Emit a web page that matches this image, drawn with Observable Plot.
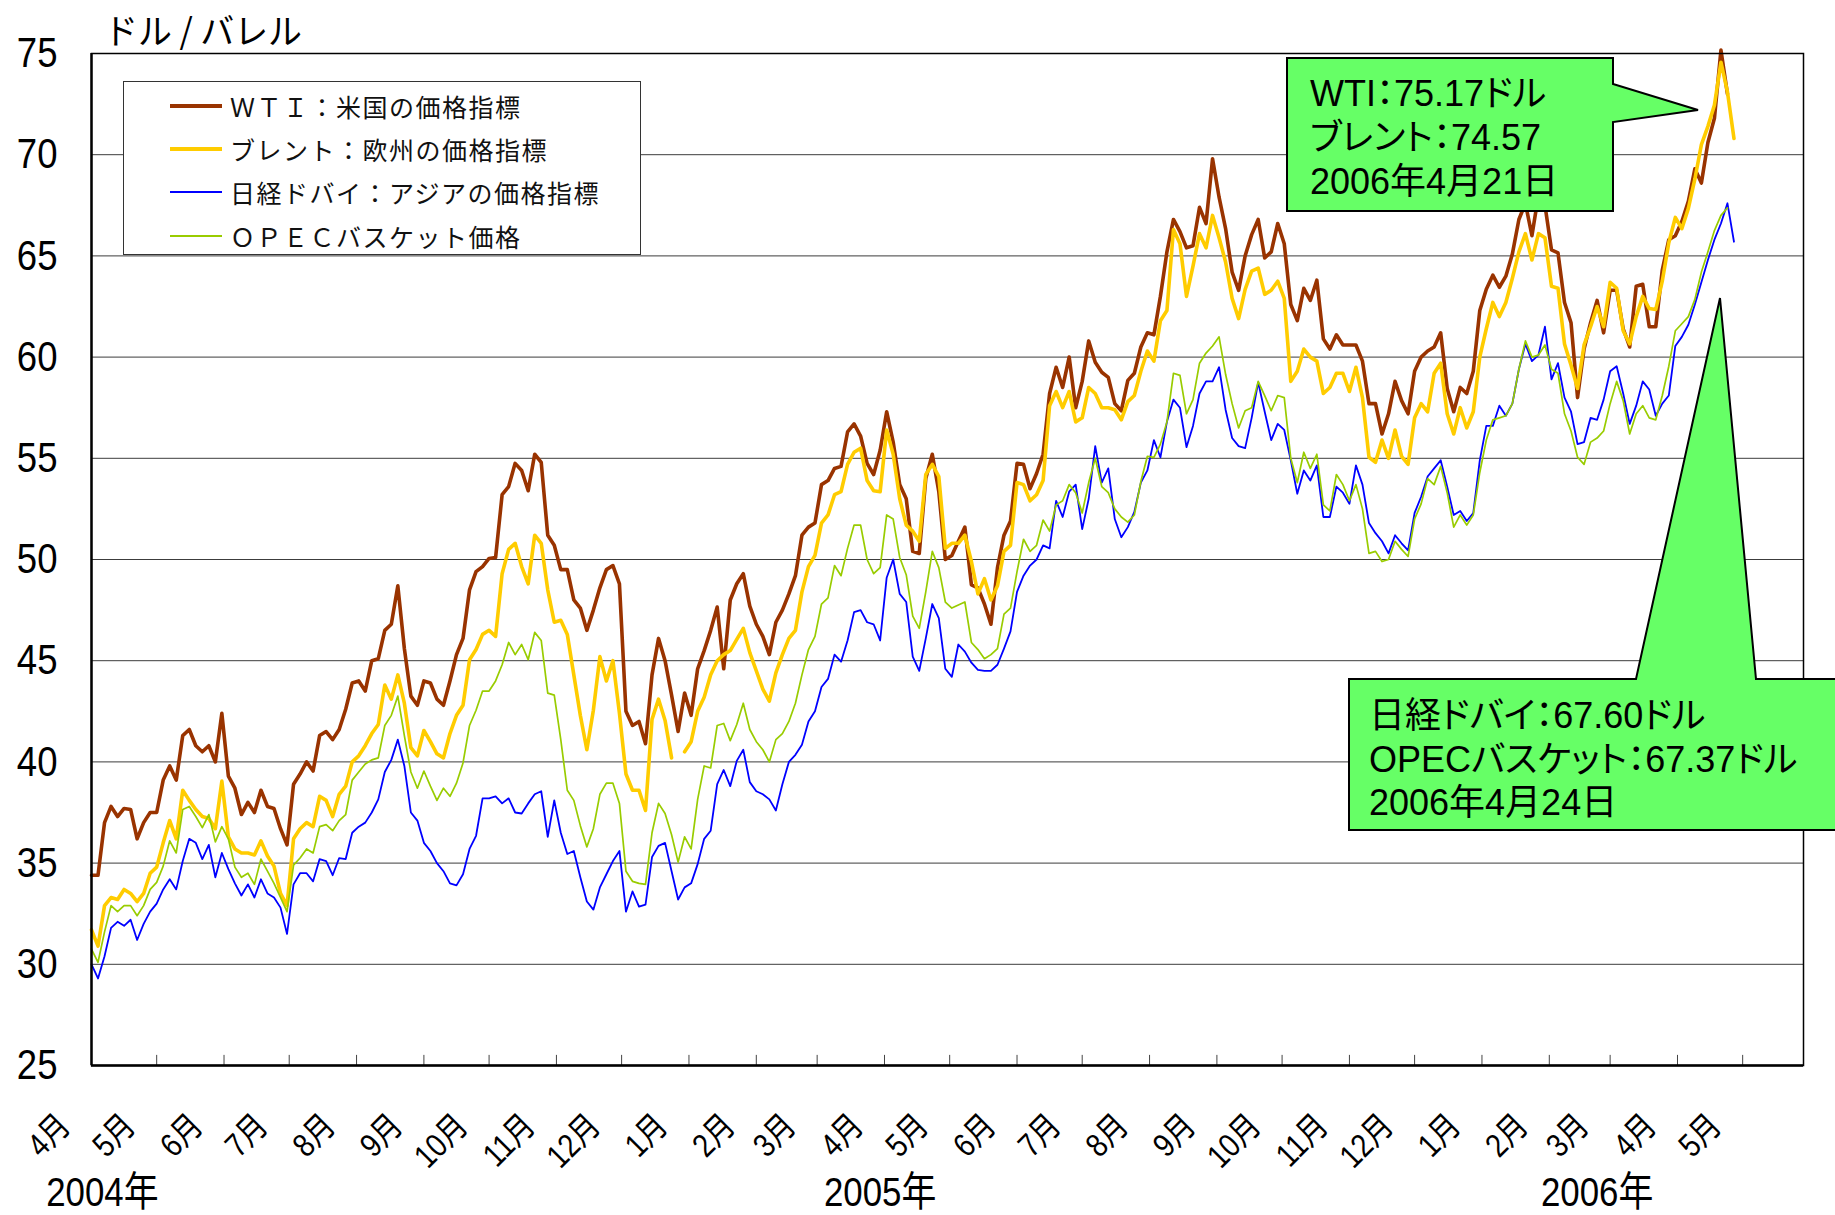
<!DOCTYPE html>
<html>
<head>
<meta charset="utf-8">
<script src="https://cdn.jsdelivr.net/npm/d3@7"></script>
<script src="https://cdn.jsdelivr.net/npm/@observablehq/plot@0.6"></script>
<style>
html, body { margin: 0; padding: 0; background: #fff; overflow: hidden; }
#wrap { position: relative; width: 1835px; height: 1215px; overflow: hidden; }
#wrap > svg { position: absolute; left: 0; top: 0; }
.legend { position: absolute; left: 123px; top: 81px; width: 518px; height: 174px; border: 1.5px solid #333;
  background: #fff; box-sizing: border-box; padding-top: 2px; }
.legend .row { height: 43.3px; display: flex; align-items: center; }
.legend .sw { margin-left: 46px; width: 52px; }
.legend .lab { margin-left: 8px; font-family: "Noto Sans CJK JP", sans-serif; font-size: 25px; letter-spacing: 1.5px; color: #111; white-space: nowrap; }
</style>
</head>
<body>
<div id="wrap"></div>
<script>
// ---------------- data (one value every 3 days from 2004-04-01) ----------------
const startDate = "2004-04-01";
const stepDays = 3;
const endDate = "2006-05-29";

const wti = [
 34.4,34.4,37.0,37.8,37.3,37.7,37.65,36.2,37.0,37.5,
 37.5,39.1,39.8,39.1,41.3,41.6,40.8,40.5,40.8,40.0,
 42.4,39.3,38.7,37.4,38.0,37.5,38.6,37.8,37.7,36.7,
 35.9,38.9,39.4,40.0,39.55,41.3,41.5,41.1,41.6,42.6,
 43.9,44.0,43.5,45.0,45.1,46.5,46.8,48.7,45.6,43.25,
 42.8,44.0,43.9,43.1,42.8,44.0,45.3,46.1,48.5,49.4,
 49.65,50.05,50.1,53.2,53.6,54.75,54.4,53.4,55.2,54.8,
 51.2,50.7,49.5,49.5,48.0,47.6,46.5,47.5,48.6,49.5,
 49.7,48.8,42.5,41.8,42.0,40.9,44.3,46.1,45.0,43.3,
 41.5,43.4,42.3,44.6,45.5,46.5,47.65,44.6,48.0,48.8,
 49.3,47.7,46.8,46.2,45.3,46.9,47.5,48.3,49.2,51.2,
 51.6,51.8,53.7,53.9,54.5,54.6,56.3,56.7,56.1,54.75,
 54.2,55.4,57.3,55.8,53.7,53.0,50.4,50.3,54.0,55.2,
 53.35,50.0,50.2,50.9,51.6,48.75,48.6,47.8,46.8,49.6,
 51.2,51.9,54.75,54.7,53.5,54.25,55.2,58.2,59.5,58.5,
 60.0,57.5,58.8,60.8,59.75,59.25,59.0,57.7,57.35,58.85,
 59.2,60.5,61.2,61.1,63.0,65.2,66.8,66.2,65.4,65.5,
 67.4,66.6,69.8,67.9,66.35,64.2,63.3,65.0,66.05,66.8,
 64.9,65.2,66.6,65.6,62.6,61.8,63.4,62.8,63.8,60.9,
 60.4,61.1,60.6,60.6,60.6,59.8,57.7,57.7,56.2,57.2,
 58.8,57.85,57.2,59.3,60.0,60.3,60.5,61.2,58.45,57.3,
 58.5,58.2,59.3,62.3,63.35,64.05,63.45,64.0,65.1,66.8,
 67.6,66.0,68.0,67.5,65.3,65.15,62.7,61.7,58.0,60.4,
 61.7,62.8,61.2,63.3,63.3,61.4,60.5,63.5,63.6,61.5,
 61.5,64.3,65.8,66.0,66.7,67.7,69.3,68.6,70.6,71.8,
 75.17,73.0,null
];

const brent = [
 31.7,30.9,32.9,33.3,33.2,33.7,33.5,33.1,33.5,34.5,
 34.8,36.0,37.1,36.2,38.6,38.1,37.65,37.3,37.2,36.7,
 39.05,36.3,35.7,35.5,35.5,35.4,36.1,35.35,34.85,33.5,
 32.9,36.2,36.7,37.0,36.8,38.3,38.1,37.3,38.4,38.8,
 40.0,40.3,40.8,41.4,41.85,43.8,43.1,44.3,42.9,40.7,
 40.3,41.55,41.0,40.4,40.2,41.4,42.3,42.8,45.05,45.55,
 46.3,46.5,46.2,49.3,50.5,50.8,49.65,48.8,51.2,50.8,
 48.5,46.9,47.0,46.3,44.3,42.3,40.6,42.55,45.2,44.0,
 45.0,42.4,39.4,38.6,38.6,37.6,42.1,43.1,42.05,40.2,
 null,40.5,41.0,42.5,43.2,44.3,45.0,45.3,45.5,46.05,
 46.6,45.4,44.5,43.6,43.0,44.4,45.3,46.1,46.5,48.4,
 49.65,50.2,51.8,52.2,53.2,53.35,54.7,55.3,55.5,53.9,
 53.4,53.35,56.4,55.2,53.0,51.7,51.4,50.9,54.2,54.7,
 54.1,50.55,50.8,50.8,51.2,49.9,48.3,49.05,48.0,48.7,
 50.4,50.7,53.8,53.7,52.9,53.2,53.9,57.6,58.3,57.5,
 58.3,56.8,57.0,58.5,58.2,57.5,57.5,57.4,56.9,57.8,
 58.1,59.3,60.3,59.8,61.8,62.3,66.3,65.6,63.0,64.5,
 66.1,65.4,67.0,65.9,64.7,62.9,61.9,63.35,64.25,64.4,
 63.1,63.3,63.75,62.9,58.8,59.3,60.4,60.0,59.8,58.2,
 58.5,59.2,59.2,58.3,59.5,58.0,55.05,54.8,55.9,55.0,
 56.4,55.1,54.7,57.0,57.7,57.3,59.2,59.7,57.2,56.2,
 57.5,56.5,57.3,60.0,61.4,62.7,62.0,62.7,63.9,65.2,
 66.1,64.8,66.1,65.9,63.5,63.4,60.65,59.6,58.45,60.6,
 61.5,62.5,61.5,63.7,63.4,61.3,60.65,62.0,63.0,62.4,
 62.35,63.75,65.65,66.9,66.35,67.35,68.8,70.5,71.4,72.45,
 74.57,73.1,70.8
];

const dubai = [
 30.0,29.3,30.4,31.8,32.1,31.9,32.2,31.2,32.0,32.6,
 33.0,33.7,34.2,33.7,35.1,36.2,36.0,35.2,35.9,34.3,
 35.5,34.7,34.0,33.4,33.95,33.3,34.2,33.5,33.3,32.8,
 31.5,33.95,34.5,34.5,34.1,35.2,35.1,34.4,35.25,35.2,
 36.5,36.8,37.0,37.5,38.15,39.5,40.1,41.1,39.8,37.5,
 37.1,36.0,35.6,35.0,34.6,34.0,33.9,34.45,35.7,36.35,
 38.2,38.2,38.3,37.95,38.2,37.5,37.45,37.95,38.4,38.55,
 36.3,38.1,36.5,35.45,35.6,34.3,33.1,32.7,33.8,34.45,
 35.1,35.6,32.6,33.6,32.85,32.95,35.3,35.85,36.0,34.6,
 33.2,33.8,34.0,34.95,36.2,36.6,38.9,39.6,38.8,40.05,
 40.6,39.0,38.55,38.4,38.15,37.6,38.9,40.0,40.35,40.85,
 42.0,42.5,43.7,44.1,45.3,44.95,46.0,47.4,47.5,46.9,
 46.8,46.0,49.1,50.0,48.3,47.9,45.2,44.5,46.1,47.8,
 47.1,44.6,44.2,45.8,45.45,44.9,44.55,44.5,44.5,44.8,
 45.6,46.45,48.4,49.2,49.7,50.0,50.7,50.55,52.9,52.1,
 53.35,53.7,51.5,53.0,55.6,53.8,54.5,52.0,51.1,51.6,
 52.35,53.8,54.4,55.9,55.05,56.8,57.9,57.5,55.55,56.6,
 58.2,58.8,58.8,59.5,57.4,56.0,55.6,55.5,57.0,58.75,
 57.3,55.9,56.7,56.4,54.9,53.25,54.4,53.9,54.65,52.1,
 52.1,53.6,53.3,52.75,54.65,53.7,51.8,51.3,50.9,50.3,
 51.2,50.8,50.45,52.3,53.1,54.1,54.5,54.9,53.6,52.2,
 52.4,51.9,52.3,54.9,56.6,56.6,57.6,57.1,57.7,59.4,
 60.65,59.8,60.1,61.5,58.9,59.7,58.0,57.3,55.7,55.8,
 57.0,56.9,57.9,59.3,59.55,58.2,56.7,57.6,58.8,58.4,
 57.1,57.7,58.1,60.55,61.0,61.6,62.6,63.7,64.8,65.8,
 66.6,67.6,65.7
];

const opec = [
 30.75,30.1,31.6,32.9,32.6,32.9,32.9,32.4,32.9,33.7,
 34.05,34.85,36.1,35.5,37.65,37.8,37.3,36.75,37.4,36.05,
 36.8,36.2,34.8,34.3,34.5,33.95,35.2,34.6,34.0,33.3,
 32.6,34.9,35.25,35.7,35.5,36.8,36.9,36.6,37.1,37.4,
 39.1,39.5,39.9,40.1,40.2,41.8,42.3,43.25,41.3,39.5,
 38.7,39.55,38.8,38.1,38.7,38.3,38.95,39.95,41.8,42.55,
 43.5,43.5,44.0,44.8,45.9,45.3,45.8,45.05,46.4,46.0,
 43.4,43.3,41.1,38.6,38.1,36.85,35.8,36.7,38.4,38.95,
 38.95,37.95,34.6,34.1,34.0,33.95,36.5,37.95,37.45,36.4,
 35.05,36.3,35.7,38.15,39.8,39.7,41.8,41.9,41.05,41.85,
 42.9,41.6,41.0,40.6,40.0,41.1,41.4,42.0,42.9,44.3,
 45.55,46.2,47.8,48.1,49.7,49.2,50.55,51.7,51.7,50.0,
 49.3,49.6,52.2,52.0,50.1,49.25,47.2,46.6,48.4,50.4,
 49.6,47.9,47.6,47.75,47.9,45.9,45.55,45.1,45.3,45.6,
 47.3,47.6,49.4,51.0,50.4,50.7,51.95,51.4,52.7,52.9,
 53.7,53.3,52.3,53.8,55.0,53.6,53.3,52.5,52.1,51.85,
 52.2,53.85,55.1,55.05,55.7,56.8,59.2,59.1,57.2,57.9,
 59.7,60.2,60.55,61.0,59.15,57.7,56.5,57.35,57.5,58.8,
 58.1,57.35,58.1,58.0,55.0,53.8,55.3,54.5,55.2,52.7,
 52.4,54.2,53.7,52.9,53.7,52.5,50.3,50.4,49.9,50.0,
 50.9,50.5,50.15,52.0,52.75,54.0,53.7,54.6,53.3,51.6,
 52.2,51.7,52.2,54.3,55.9,56.9,57.0,57.1,57.7,59.4,
 60.8,60.0,60.1,60.6,59.4,59.2,57.2,56.35,55.05,54.7,
 55.8,56.0,56.35,57.7,58.8,57.85,56.2,57.2,57.6,57.0,
 56.9,58.1,59.55,61.3,61.65,62.0,62.85,64.2,65.2,66.25,
 67.0,67.37,null
];

const seriesNames = ["ＷＴＩ：米国の価格指標", "ブレント：欧州の価格指標", "日経ドバイ：アジアの価格指標", "ＯＰＥＣバスケット価格"];
const seriesColors = ["#993300", "#FFCC00", "#0000FF", "#99CC00"];
const seriesWidths = [3.6, 3.6, 1.8, 1.7];

const yTicks = [25, 30, 35, 40, 45, 50, 55, 60, 65, 70, 75];
const yGrid = [30, 35, 40, 45, 50, 55, 60, 65, 70];
const monthLabels = ["4月","5月","6月","7月","8月","9月","10月","11月","12月","1月","2月","3月",
                     "4月","5月","6月","7月","8月","9月","10月","11月","12月","1月","2月","3月","4月","5月"];
const yearLabels = ["2004年", "2005年", "2006年"];
const yearLabelDates = ["2004-04-06", "2005-03-30", "2006-02-23"];
const unitLabel = "ドル / バレル";
const callout1 = ["WTI：75.17ドル", "ブレント：74.57", "2006年4月21日"];
const callout2 = ["日経ドバイ：67.60ドル", "OPECバスケット：67.37ドル", "2006年4月24日"];

// ---------------- helpers ----------------
function fontAvailable(name) {
  const ctx = document.createElement("canvas").getContext("2d");
  const s = "0123456789WIXmw";
  for (const base of ["monospace", "serif"]) {
    ctx.font = `40px ${base}`; const w0 = ctx.measureText(s).width;
    ctx.font = `40px "${name}", ${base}`; const w1 = ctx.measureText(s).width;
    if (Math.abs(w0 - w1) > 0.5) return true;
  }
  return false;
}
const hasNarrow = fontAvailable("Liberation Sans Narrow");
const axisFamily = hasNarrow
  ? '"Liberation Sans Narrow", "Noto Sans CJK JP", sans-serif'
  : '"Liberation Sans", "Noto Sans CJK JP", sans-serif';
const squeezeX = hasNarrow ? 1 : 0.85;   // the reference's axis lettering is condensed

const parse = d3.utcParse("%Y-%m-%d");
const t0 = parse(startDate);
const tEnd = parse(endDate);
const dates = wti.map((_, i) => d3.utcDay.offset(t0, i * stepDays));
const allSeries = [wti, brent, dubai, opec];
const monthTicks = d3.utcMonth.range(t0, d3.utcMonth.offset(t0, monthLabels.length));
const yearDates = yearLabelDates.map(parse);

const lineMarks = allSeries.map((vals, s) =>
  Plot.line(vals.map((v, i) => ({date: dates[i], value: v == null ? NaN : v})), {
    x: "date", y: "value", stroke: seriesColors[s], strokeWidth: seriesWidths[s],
    strokeLinejoin: "round", strokeLinecap: "round"
  })
);

const chart = Plot.plot({
  width: 1835, height: 1215,
  marginLeft: 91, marginRight: 32, marginTop: 53, marginBottom: 150,
  style: {background: "transparent", fontFamily: axisFamily, color: "#000"},
  x: {type: "utc", domain: [t0, tEnd], axis: null},
  y: {domain: [25, 75], label: null},
  marks: [
    Plot.ruleY(yGrid, {stroke: "#3c3c3c", strokeWidth: 1}),
    Plot.ruleX(monthTicks, {x: d => d, y1: 25, y2: 25.5, stroke: "#444", strokeWidth: 1}),
    ...lineMarks,
    Plot.frame({stroke: "#000", strokeWidth: 1.5}),
    Plot.ruleX([t0], {stroke: "#000", strokeWidth: 2.4}),
    Plot.ruleY([25], {stroke: "#000", strokeWidth: 2.4}),
    Plot.axisY({ticks: yTicks, label: null, tickSize: 0, tickPadding: 34, fontSize: 43, tickFormat: d => String(d)}),
    Plot.text(monthTicks, {x: d => d, text: (d, i) => monthLabels[i], frameAnchor: "bottom",
      rotate: -45, textAnchor: "end", lineAnchor: "middle", dx: -27, dy: 55, fontSize: 33}),
    Plot.text(yearLabels, {x: (d, i) => yearDates[i], text: d => d, frameAnchor: "bottom",
      lineAnchor: "middle", dy: 127, fontSize: 41})
  ]
});

// condense the axis lettering horizontally around each text's own anchor
if (squeezeX !== 1) {
  chart.querySelectorAll("text").forEach(el => {
    let tr = el.getAttribute("transform") || "";
    const x = el.getAttribute("x"), y = el.getAttribute("y");
    const isNum = v => v != null && /^-?[\d.]+$/.test(v);
    if (isNum(x) || isNum(y)) {
      tr += ` translate(${isNum(x) ? x : 0},${isNum(y) ? y : 0})`;
      if (isNum(x)) el.removeAttribute("x");
      if (isNum(y)) el.removeAttribute("y");
    }
    el.setAttribute("transform", (tr + ` scale(${squeezeX},1)`).trim());
  });
}

const wrap = d3.select("#wrap");
wrap.node().appendChild(chart);

// ---------------- legend ----------------
const legend = wrap.append("div").attr("class", "legend");
seriesNames.forEach((name, s) => {
  const row = legend.append("div").attr("class", "row");
  row.append("div").attr("class", "sw")
     .style("height", (s < 2 ? 4 : 2) + "px").style("background", seriesColors[s]);
  row.append("div").attr("class", "lab").text(name);
});

// ---------------- annotations overlay ----------------
const ov = wrap.append("svg").attr("width", 1835).attr("height", 1215)
  .style("position", "absolute").style("left", 0).style("top", 0).style("pointer-events", "none");

ov.append("text").attr("x", 104).attr("y", 44)
  .attr("font-family", '"Noto Sans CJK JP", sans-serif').attr("font-size", 35)
  .attr("textLength", 198).attr("lengthAdjust", "spacingAndGlyphs")
  .attr("fill", "#000").text(unitLabel);

const calloutFont = '"Liberation Sans", Arial, "Noto Sans CJK JP", sans-serif';
ov.append("path")
  .attr("d", "M1287,58 H1613 V84 L1698,110 L1613,122 V211 H1287 Z")
  .attr("fill", "#66FF66").attr("stroke", "#000").attr("stroke-width", 2).attr("stroke-linejoin", "miter");
callout1.forEach((t, i) => {
  ov.append("text").attr("x", 1310).attr("y", 106 + i * 44)
    .attr("font-family", calloutFont).attr("font-size", 36)
    .style("font-feature-settings", i < 2 ? '"palt"' : "normal").attr("fill", "#000").text(t);
});

ov.append("path")
  .attr("d", "M1349,679 H1636 L1720,298 L1756,679 H1845 V830 H1349 Z")
  .attr("fill", "#66FF66").attr("stroke", "#000").attr("stroke-width", 2).attr("stroke-linejoin", "miter");
callout2.forEach((t, i) => {
  ov.append("text").attr("x", 1369).attr("y", 728 + i * 43.5)
    .attr("font-family", calloutFont).attr("font-size", 36)
    .style("font-feature-settings", i < 2 ? '"palt"' : "normal").attr("fill", "#000").text(t);
});
</script>
</body>
</html>
